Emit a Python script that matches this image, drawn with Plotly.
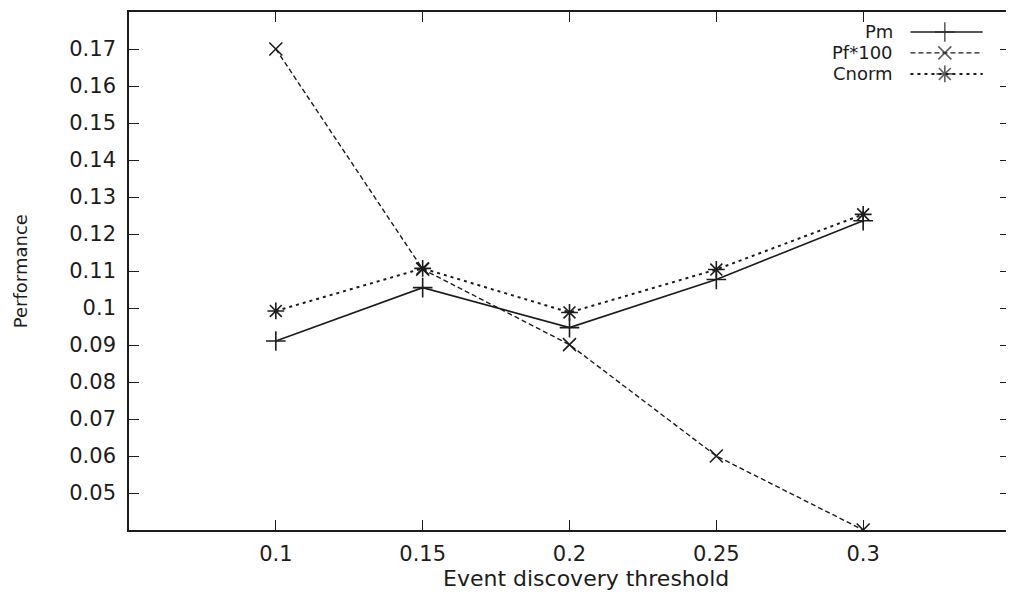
import plotly.graph_objects as go

# ---- data ----
thresholds = [0.1, 0.15, 0.2, 0.25, 0.3]
pm = [0.0911, 0.1055, 0.0947, 0.1077, 0.1236]
pf100 = [0.170, 0.1105, 0.0901, 0.060, 0.040]
cnorm = [0.0992, 0.1107, 0.0988, 0.1104, 0.1253]

series_names = ["Pm", "Pf*100", "Cnorm"]
y_ticks = [0.05, 0.06, 0.07, 0.08, 0.09, 0.10, 0.11, 0.12, 0.13, 0.14, 0.15, 0.16, 0.17]
y_tick_text = ["0.05", "0.06", "0.07", "0.08", "0.09", "0.1", "0.11", "0.12", "0.13",
               "0.14", "0.15", "0.16", "0.17"]
x_ticks = [0.1, 0.15, 0.2, 0.25, 0.3]
x_tick_text = ["0.1", "0.15", "0.2", "0.25", "0.3"]

INK = "#1c1c1c"
FONT = "DejaVu Sans, Verdana, sans-serif"

styles = [
    dict(dash="solid", width=1.6, symbol="cross-thin", size=14),
    dict(dash="5px,3px", width=1.4, symbol="x-thin", size=13),
    dict(dash="3px,4px", width=2.0, symbol="asterisk", size=14),
]

fig = go.Figure()
for name, ys, st in zip(series_names, [pm, pf100, cnorm], styles):
    fig.add_trace(go.Scatter(
        x=thresholds, y=ys, name=name, mode="lines+markers",
        line=dict(color=INK, width=st["width"], dash=st["dash"]),
        marker=dict(symbol=st["symbol"], size=st["size"], color=INK,
                    line=dict(color=INK, width=1.6)),
        showlegend=False,
    ))

# gnuplot-style key: text right-aligned, sample on the right
key_rows = [0.9615, 0.921, 0.8805]
for name, st, yk in zip(series_names, styles, key_rows):
    fig.add_trace(go.Scatter(
        x=[0.887, 0.926, 0.969], y=[yk, yk, yk], xaxis="x2", yaxis="y2",
        mode="lines+markers", showlegend=False, hoverinfo="skip",
        line=dict(color=INK, width=st["width"], dash=st["dash"]),
        marker=dict(symbol=st["symbol"], size=[0, st["size"], 0], color=INK,
                    line=dict(color=INK, width=1.6)),
    ))
    fig.add_annotation(x=0.870, y=yk, xref="paper", yref="paper", text=name,
                       showarrow=False, xanchor="right", yanchor="middle",
                       font=dict(family=FONT, size=18, color=INK))

# axis titles
fig.add_annotation(x=0.519, y=-0.094, xref="paper", yref="paper",
                   text="Event discovery threshold", showarrow=False,
                   xanchor="center", yanchor="middle",
                   font=dict(family=FONT, size=22, color=INK))
fig.add_annotation(x=-0.1235, y=0.5, xref="paper", yref="paper",
                   text="Performance", showarrow=False, textangle=-90,
                   xanchor="center", yanchor="middle",
                   font=dict(family=FONT, size=18, color=INK))

axis_common = dict(showline=True, linecolor=INK, linewidth=1.6, mirror="allticks",
                   ticks="inside", ticklen=10, tickwidth=1.4, tickcolor=INK,
                   showgrid=False, zeroline=False,
                   tickfont=dict(family=FONT, size=21, color=INK))

# the page body adds an 8px offset; sizes/margins compensate for it
fig.update_layout(
    width=1006, height=589,
    paper_bgcolor="white", plot_bgcolor="white",
    margin=dict(l=121, r=2, t=3, b=67),
    xaxis=dict(range=[0.05, 0.35], tickvals=x_ticks, ticktext=x_tick_text,
               ticklabelstandoff=4, **axis_common),
    yaxis=dict(range=[0.04, 0.18], tickvals=y_ticks, ticktext=y_tick_text,
               ticklabelstandoff=7, **axis_common),
    xaxis2=dict(overlaying="x", range=[0, 1], visible=False, anchor="y2"),
    yaxis2=dict(overlaying="y", range=[0, 1], visible=False, anchor="x2"),
)

fig.write_html("out.html")
